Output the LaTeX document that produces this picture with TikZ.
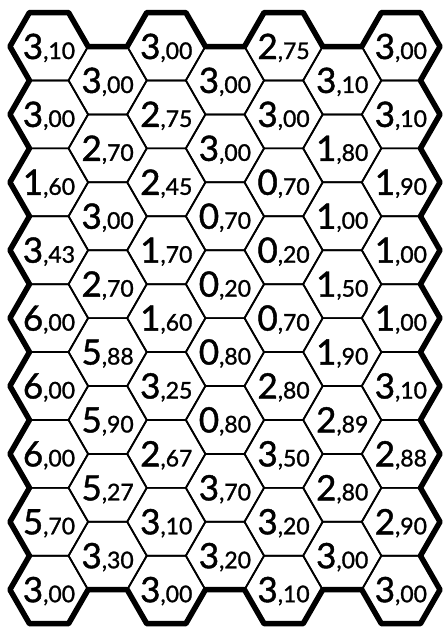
\documentclass[tikz,border=0pt]{standalone}
\usepackage{fontspec}
\setmainfont{Lato}[FakeBold=1.2]
\newcommand\hv[2]{{\fontsize{35}{35}\selectfont #1}{\fontsize{23}{23}\selectfont ,#2}}
\begin{document}
\begin{tikzpicture}[x=1pt,y=-1pt]
\tikzset{
  gridline/.style={line width=1.7pt, line join=round, line cap=round},
  rim/.style={line width=5.5pt, line join=round, line cap=round},
  val/.style={anchor=base, inner sep=0pt}
}
\fill[white] (0,0) rectangle (445,632);
\useasboundingbox (0,0) rectangle (445,632);
\def\R{39.1}\def\hR{19.55}\def\hh{33.95}
% thin hexagons
\foreach \c in {0,...,6}{
  \pgfmathsetmacro\X{49+58.65*\c}
  \pgfmathtruncatemacro\odd{mod(\c,2)}
  \pgfmathtruncatemacro\last{8-\odd}
  \foreach \r in {0,...,\last}{
    \pgfmathsetmacro\Y{46.5+67.9*\r+33.95*\odd}
    \draw[gridline,shift={(\X,\Y)}] (\R,0) -- (\hR,\hh) -- (-\hR,\hh) -- (-\R,0) -- (-\hR,-\hh) -- (\hR,-\hh) -- cycle;
  }
}
% thick outer rim
\draw[rim] (9.9,46.5)
  \foreach \k in {0,2,4,6}{ -- (49+58.65*\k-39.1,46.5) -- (49+58.65*\k-19.55,12.55) -- (49+58.65*\k+19.55,12.55) -- (49+58.65*\k+39.1,46.5) }
  \foreach \r in {0,...,7}{ -- (420.45,46.5+67.9*\r+33.95) -- (440,46.5+67.9*\r+67.9) }
  \foreach \k in {6,4,2,0}{ -- (49+58.65*\k+39.1,589.7) -- (49+58.65*\k+19.55,623.65) -- (49+58.65*\k-19.55,623.65) -- (49+58.65*\k-39.1,589.7) }
  \foreach \r in {8,...,1}{ -- (29.45,46.5+67.9*\r-33.95) -- (9.9,46.5+67.9*\r-67.9) }
  -- cycle;
% values
\foreach \c/\lst in {
  0/{3/10,3/00,1/60,3/43,6/00,6/00,6/00,5/70,3/00},
  1/{3/00,2/70,3/00,2/70,5/88,5/90,5/27,3/30},
  2/{3/00,2/75,2/45,1/70,1/60,3/25,2/67,3/10,3/00},
  3/{3/00,3/00,0/70,0/20,0/80,0/80,3/70,3/20},
  4/{2/75,3/00,0/70,0/20,0/70,2/80,3/50,3/20,3/10},
  5/{3/10,1/80,1/00,1/50,1/90,2/89,2/80,3/00},
  6/{3/00,3/10,1/90,1/00,1/00,3/10,2/88,2/90,3/00}}{
  \pgfmathsetmacro\X{49+58.65*\c}
  \pgfmathtruncatemacro\odd{mod(\c,2)}
  \foreach \a/\b [count=\r from 0] in \lst {
    \pgfmathsetmacro\Y{46.5+67.9*\r+33.95*\odd+12.5}
    \node[val] (t\c-\r) at (\X,\Y) {\hv{\a}{\b}};
  }
}
\end{tikzpicture}
\end{document}
